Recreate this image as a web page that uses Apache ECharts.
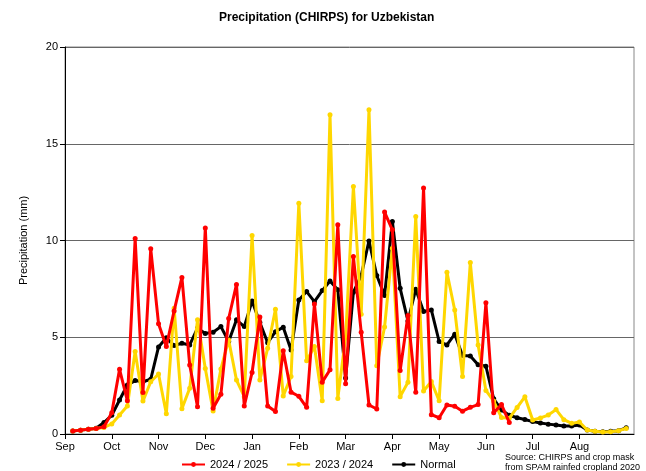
<!DOCTYPE html>
<html>
<head>
<meta charset="utf-8">
<title>Precipitation (CHIRPS) for Uzbekistan</title>
<script src="https://cdn.jsdelivr.net/npm/echarts@6/dist/echarts.min.js"></script>
<style>
  html, body { margin: 0; padding: 0; background: #fff; }
  #chart { width: 646px; height: 471px; }
</style>
</head>
<body>
<div id="chart"></div>
<script>
// one label per month, 6 pentads each, season starts in September
var months = ['Sep', 'Oct', 'Nov', 'Dec', 'Jan', 'Feb', 'Mar', 'Apr', 'May', 'Jun', 'Jul', 'Aug'];

// pentad rainfall (mm), current season stops early June
var rain2425 = [0.16, 0.2, 0.24, 0.28, 0.38, 1.1, 3.34, 1.72, 10.1, 2.14, 9.57, 5.7,
  4.52, 6.36, 8.09, 3.57, 1.41, 10.65, 1.33, 2.05, 5.97, 7.73, 1.45, 3.18,
  6.05, 1.45, 1.16, 4.3, 2.16, 1.95, 1.38, 6.72, 2.68, 3.32, 10.81, 2.6,
  9.17, 5.26, 1.5, 1.29, 11.47, 10.55, 3.28, 6.12, 2.16, 12.71, 1.0, 0.84,
  1.5, 1.43, 1.18, 1.38, 1.52, 6.78, 1.1, 1.52, 0.6];

var rain2324 = [0.16, 0.2, 0.24, 0.28, 0.34, 0.52, 0.98, 1.45, 4.26, 1.7, 2.7, 3.1,
  1.05, 6.5, 1.31, 2.36, 5.9, 3.38, 1.19, 3.36, 4.86, 2.79, 1.93, 10.26,
  2.79, 4.43, 6.45, 1.97, 2.97, 11.93, 3.79, 4.52, 1.72, 16.5, 1.84, 5.0,
  12.79, 6.19, 16.76, 3.53, 5.53, 9.6, 1.93, 2.67, 11.24, 2.22, 2.71, 1.72,
  8.36, 6.41, 2.97, 8.86, 4.6, 2.25, 1.7, 0.85, 0.81, 1.37, 1.92, 0.72,
  0.83, 0.98, 1.26, 0.74, 0.55, 0.62, 0.21, 0.14, 0.1, 0.11, 0.17, 0.29];

var rainNormal = [0.16, 0.2, 0.24, 0.3, 0.59, 0.97, 1.76, 2.53, 2.76, 2.7, 2.83, 4.5,
  4.97, 4.57, 4.69, 4.6, 5.47, 5.2, 5.26, 5.55, 4.78, 5.9, 5.55, 6.87,
  5.76, 4.72, 5.29, 5.52, 4.34, 6.93, 7.36, 6.84, 7.41, 7.91, 7.45, 2.9,
  7.33, 8.19, 9.98, 8.19, 7.16, 10.98, 7.53, 5.84, 7.48, 6.33, 6.41, 4.78,
  4.6, 5.16, 4.06, 4.03, 3.58, 3.5, 1.82, 1.24, 0.97, 0.84, 0.75, 0.64,
  0.57, 0.51, 0.47, 0.41, 0.41, 0.47, 0.21, 0.14, 0.12, 0.14, 0.17, 0.32];

var font = 'Arial, "Liberation Sans", sans-serif';

// pentad n is plotted at the end of the pentad
function toPoints(arr) {
  var out = [];
  for (var i = 0; i < arr.length; i++) {
    out.push([i + 1, arr[i]]);
  }
  return out;
}

var monthTicks = months.map(function (m, i) { return i * 6; });

function makeSeries(name, color, values, z) {
  return {
    name: name,
    type: 'line',
    data: toPoints(values),
    z: z,
    symbol: 'circle',
    symbolSize: 5,
    showSymbol: true,
    itemStyle: { color: color },
    lineStyle: { color: color, width: 3 }
  };
}

var chart = echarts.init(document.getElementById('chart'), null, { renderer: 'canvas' });

var option = {
  animation: false,
  backgroundColor: '#fff',
  textStyle: { fontFamily: font, color: '#000' },
  title: {
    text: 'Precipitation (CHIRPS) for Uzbekistan',
    left: 214,
    top: 7,
    textStyle: { fontSize: 12, fontWeight: 'bold', color: '#000', fontFamily: font }
  },
  grid: {
    left: 65,
    right: 12,
    top: 47,
    bottom: 37,
    show: true,
    borderColor: '#888',
    borderWidth: 1
  },
  legend: {
    top: 454,
    left: 176,
    itemWidth: 23,
    itemHeight: 6,
    itemGap: 18,
    textStyle: { fontSize: 11, color: '#000', fontFamily: font },
    data: ['2024 / 2025', '2023 / 2024', 'Normal']
  },
  xAxis: {
    type: 'value',
    min: 0,
    max: 73,
    splitLine: { show: false },
    axisLine: { show: true, onZero: false, lineStyle: { color: '#000', width: 1 } },
    axisTick: { show: true, length: 5, customValues: monthTicks, lineStyle: { color: '#000' } },
    axisLabel: {
      customValues: monthTicks,
      fontSize: 11,
      color: '#000',
      margin: 7,
      formatter: function (v) { return months[Math.round(v / 6)]; }
    }
  },
  yAxis: {
    type: 'value',
    min: 0,
    max: 20,
    interval: 5,
    name: 'Precipitation (mm)',
    nameLocation: 'middle',
    nameGap: 36,
    nameTextStyle: { fontSize: 11, color: '#000', fontFamily: font },
    axisLine: { show: true, lineStyle: { color: '#000', width: 1 } },
    axisTick: { show: true, length: 5, lineStyle: { color: '#000' } },
    axisLabel: { fontSize: 11, color: '#000', margin: 7 },
    splitLine: { show: true, lineStyle: { color: '#666', width: 1 } }
  },
  graphic: [{
    type: 'text',
    right: 6,
    top: 453,
    style: {
      text: 'Source: CHIRPS and crop mask\nfrom SPAM rainfed cropland 2020',
      fontSize: 9,
      lineHeight: 10,
      fontFamily: font,
      fill: '#000',
      align: 'right'
    }
  }],
  series: [
    makeSeries('Normal', '#000000', rainNormal, 2),
    makeSeries('2023 / 2024', '#ffd700', rain2324, 3),
    makeSeries('2024 / 2025', '#ff0000', rain2425, 4)
  ]
};

chart.setOption(option);
</script>
</body>
</html>
